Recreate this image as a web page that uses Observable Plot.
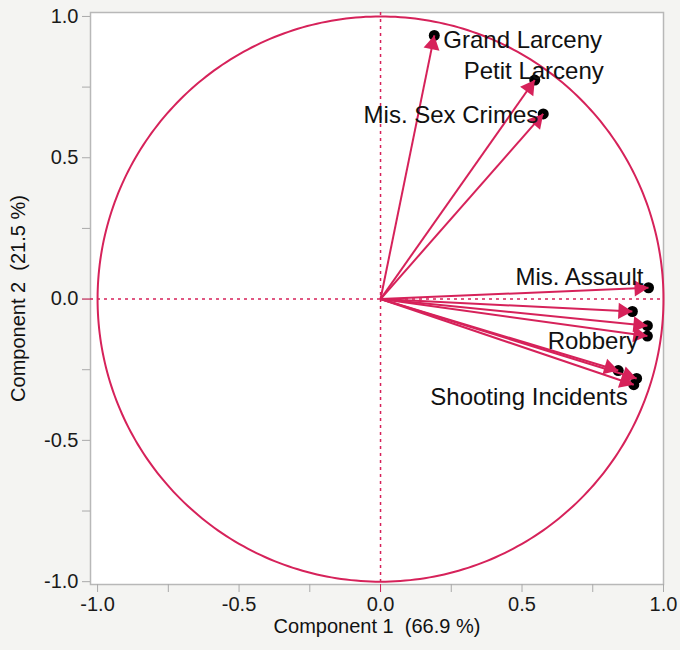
<!DOCTYPE html>
<html><head><meta charset="utf-8">
<script src="https://cdn.jsdelivr.net/npm/d3@7"></script>
<script src="https://cdn.jsdelivr.net/npm/@observablehq/plot@0.6"></script>
<style>
html,body{margin:0;padding:0;background:#f4f4f2;}
#chart svg{display:block;}
</style></head><body><div id="chart"></div>
<script>
// ---- data (loadings) ----
const variables = ["Grand Larceny","Petit Larceny","Mis. Sex Crimes","Mis. Assault","Variable 5","Variable 6","Robbery","Variable 8","Variable 9","Shooting Incidents"];
const comp1 = [0.19, 0.545, 0.575, 0.947, 0.89, 0.943, 0.943, 0.84, 0.905, 0.895];
const comp2 = [0.933, 0.775, 0.655, 0.04, -0.044, -0.094, -0.131, -0.253, -0.281, -0.303];
const shownLabels = ["Grand Larceny","Petit Larceny","Mis. Sex Crimes","Mis. Assault","Robbery","Shooting Incidents"];
const majorTicks = [-1.0, -0.5, 0.0, 0.5, 1.0];
const minorTicks = [-0.75, -0.25, 0.25, 0.75];
const xTitle = "Component 1\u00a0 (66.9 %)";
const yTitle = "Component 2\u00a0 (21.5 %)";

// ---- layout ----
const W = 680, H = 650, mL = 90, mR = 17, mT = 12, mB = 66;
const xDom = [-1.025, 1.0], yDom = [-1.01, 1.014];
const kx = (W - mL - mR) / (xDom[1] - xDom[0]);
const red = "#d6225a";
const font = "'Liberation Sans', Arial, Helvetica, sans-serif";

const rows = variables.map((v, i) => ({name: v, x: comp1[i], y: comp2[i]}));
const headR = 6;
const tipPx = 2 * Math.sqrt(Math.PI * headR * headR / (3 * Math.sqrt(3)));
const heads = rows.map(d => {
  const len = Math.hypot(d.x, d.y), back = tipPx / kx;
  return {hx: d.x - back * d.x / len, hy: d.y - back * d.y / len, rot: Math.atan2(d.x, d.y) * 180 / Math.PI};
});
const circle = d3.range(0, 361, 1).map(a => ({x: Math.cos(a * Math.PI / 180), y: Math.sin(a * Math.PI / 180)}));

const placement = {
  "Grand Larceny": {textAnchor: "start", dx: 9, dy: 5},
  "Petit Larceny": {textAnchor: "middle", dx: -1, dy: -9},
  "Mis. Sex Crimes": {textAnchor: "end", dx: -5, dy: 1},
  "Mis. Assault": {textAnchor: "end", dx: -5, dy: -10},
  "Robbery": {textAnchor: "end", dx: -9, dy: 5},
  "Shooting Incidents": {textAnchor: "end", dx: -6, dy: 13}
};
const labelMarks = shownLabels.map(name => Plot.text(rows.filter(d => d.name === name), {
  x: "x", y: "y", text: "name", fontSize: 24, fill: "#111", ...placement[name]
}));

const chart = Plot.plot({
  width: W, height: H,
  marginLeft: mL, marginRight: mR, marginTop: mT, marginBottom: mB,
  x: {domain: xDom, axis: null},
  y: {domain: yDom, axis: null},
  style: {background: "#f4f4f2", fontFamily: font, overflow: "visible"},
  marks: [
    Plot.frame({fill: "white", stroke: "#b8b8b8", strokeWidth: 1.5}),
    Plot.axisX({ticks: majorTicks, tickSize: 8, tickPadding: 4, stroke: "#aaa", fill: "#1a1a1a", fontSize: 20, tickFormat: d => d.toFixed(1), label: null}),
    Plot.axisX({ticks: minorTicks, tickSize: 8, stroke: "#aaa", tickFormat: () => "", label: null}),
    Plot.axisX({ticks: [0], tickSize: 8, stroke: red, tickFormat: () => "", label: null}),
    Plot.axisY({ticks: majorTicks, tickSize: 8, tickPadding: 4, stroke: "#aaa", fill: "#1a1a1a", fontSize: 20, tickFormat: d => d.toFixed(1), label: null}),
    Plot.axisY({ticks: minorTicks, tickSize: 8, stroke: "#aaa", tickFormat: () => "", label: null}),
    Plot.axisY({ticks: [0], tickSize: 8, stroke: red, tickFormat: () => "", label: null}),
    Plot.ruleX([0], {stroke: red, strokeDasharray: "3,4", strokeWidth: 1.5}),
    Plot.ruleY([0], {stroke: red, strokeDasharray: "3,4", strokeWidth: 1.5}),
    Plot.line(circle, {x: "x", y: "y", stroke: red, strokeWidth: 2}),
    Plot.dot(rows, {x: "x", y: "y", r: 5.5, fill: "black"}),
    Plot.link(rows, {x1: d => 0, y1: d => 0, x2: "x", y2: "y", stroke: red, strokeWidth: 2}),
    Plot.dot(heads, {x: "hx", y: "hy", symbol: "triangle", r: headR, fill: red, rotate: "rot"}),
    ...labelMarks,
    Plot.text([xTitle], {frameAnchor: "bottom", textAnchor: "middle", text: d => d, dy: 48, fontSize: 20, fill: "#111"}),
    Plot.text([yTitle], {frameAnchor: "left", textAnchor: "middle", text: d => d, dx: -72, rotate: -90, fontSize: 20, fill: "#111"})
  ]
});
document.getElementById("chart").appendChild(chart);
</script>
</body></html>
